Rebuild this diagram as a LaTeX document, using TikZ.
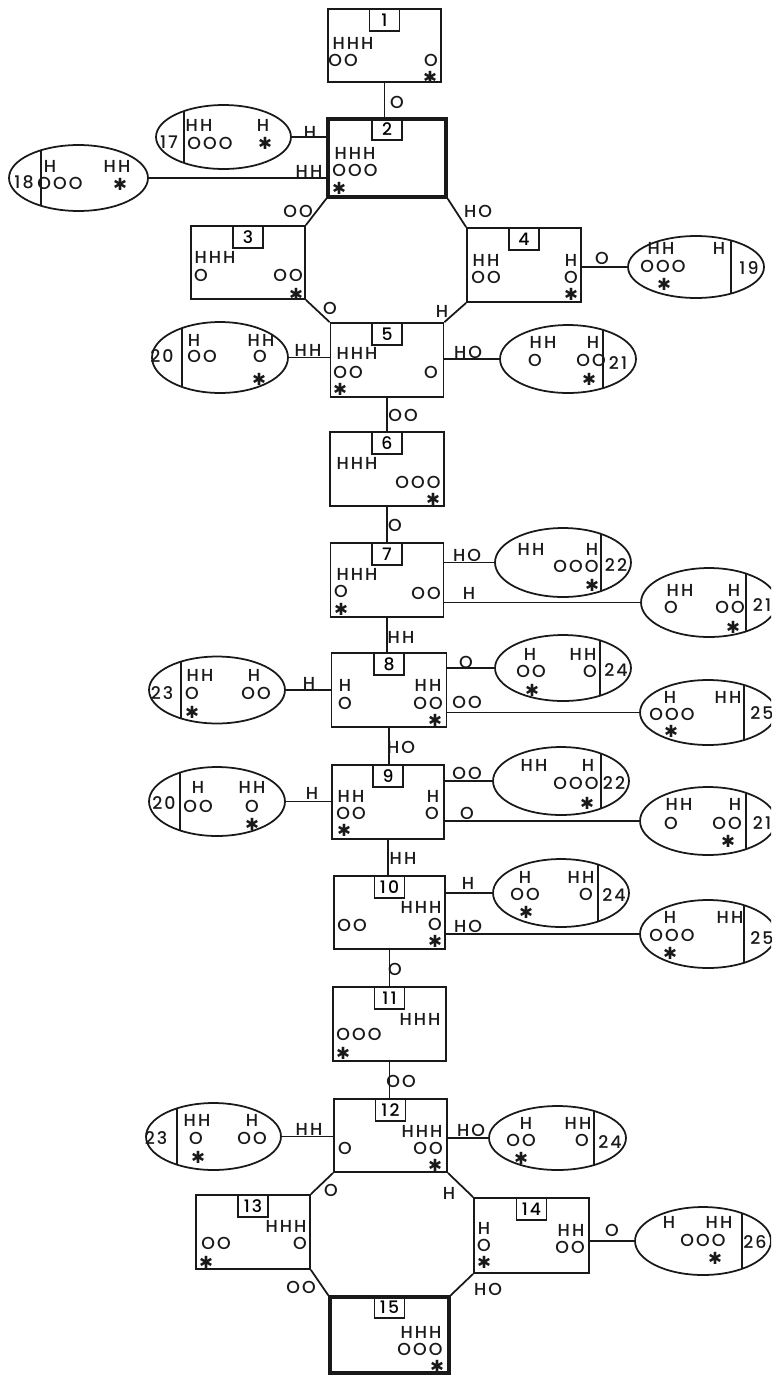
\documentclass[tikz,border=0pt]{standalone}
\usepackage{fontspec}
\usepackage{tikz}
\usetikzlibrary{shapes.geometric, calc}
\IfFontExistsTF{Poppins Medium}
  {\newfontfamily\chemfont[LetterSpace=12]{Poppins Medium}}
  {\newfontfamily\chemfont[LetterSpace=12]{Poppins}}
\newfontfamily\symfont{DejaVu Sans}
\definecolor{Ink}{RGB}{25,25,25}
\newcommand\astr{{\symfont\fontsize{9.5}{9.5}\selectfont ✱}}

\begin{document}
\begin{tikzpicture}[
  x=0.02cm, y=-0.02cm,
  box/.style={rectangle, draw=Ink, line width=1pt, inner sep=0pt},
  boxthin/.style={},
  boxthick/.style={line width=2pt},
  tab/.style={rectangle, draw=Ink, line width=0.9pt, inner sep=0pt,
              minimum width=0.6cm, minimum height=0.44cm,
              font=\chemfont\fontsize{9.8}{9.8}\selectfont},
  cell/.style={ellipse, draw=Ink, line width=1pt, inner sep=0pt},
  link/.style={draw=Ink, line width=1pt},
  chem/.style={inner sep=0pt, text=Ink, font=\chemfont\fontsize{9.9}{9.9}\selectfont}
]
\useasboundingbox (0,0) rectangle (771,1376);
\clip (0,0) rectangle (771,1376);

% boxes with their number tabs
\foreach \n/\x/\y/\w/\h/\s in {
  1/384.5/45.5/113/73/boxthin, 2/387/158/118/78/boxthick,
  3/248/262.5/114/73/boxthin, 4/524/265/114/74/boxthin,
  5/387/360/113/74/boxthin, 6/387/469/114/74/boxthin,
  7/387/580/113/74/boxthin, 8/389/690/115/74/boxthin,
  9/388/802/112/74/boxthin, 10/389.5/912.5/111/73/boxthin,
  11/389.5/1024/113/74/boxthin, 12/390.5/1135.5/113/73/boxthin,
  13/253/1232/114/74/boxthin, 14/531.5/1235.5/115/75/boxthin,
  15/389.5/1335/119/76/boxthick}
{
  \node[box, \s, minimum width=\w*0.02cm, minimum height=\h*0.02cm] (b\n) at (\x,\y) {};
  \node[tab, anchor=north] (t\n) at (b\n.north) {\n};
}

% side cells
\foreach \n/\x/\y/\rx/\ry/\d in {
  17/223.5/137/67.5/32/184, 18/78.5/178/69.5/33/41,
  19/696/267/68/31/731, 20a/220/357.5/68/35.5/182,
  21a/568/359/68/34/603, 22a/563/562.5/68/34.5/601,
  21b/709/602.5/68/34.5/746, 23a/217/690/68/33.5/181,
  24a/563/668/68/33/600, 25a/708/712.5/68/32.5/744,
  20b/217/801.5/68/34.5/180, 22b/561/781/68/34/601,
  21c/708/821/68/34/746, 24b/561/893/68/34/598,
  25b/708/934/68/34/744, 23b/213.5/1136.5/67.5/33.5/177,
  24c/557.5/1138/68.5/32/594, 26/703/1241/68/34/742}
{
  \node[cell, minimum width=\rx*0.04cm, minimum height=\ry*0.04cm] (e\n) at (\x,\y) {};
  \begin{scope}
    \clip (\x,\y) ellipse ({\rx} and {\ry});
    \draw[link] (\d,\y-\ry) -- (\d,\y+\ry);
  \end{scope}
}

% main chain
\foreach \a/\b in {1/2, 5/6, 6/7, 7/8, 8/9, 9/10, 10/11, 11/12}
  \draw[link] (b\a.south) -- (b\a.south |- b\b.north);

% rings
\foreach \a/\p/\b/\q in {2/south west/3/north east, 2/south east/4/north west,
  3/south east/5/north west, 4/south west/5/north east,
  12/south west/13/north east, 12/south east/14/north west,
  13/south east/15/north west, 14/south west/15/north east}
  \draw[link] (b\a.\p) -- (b\b.\q);

% cells to boxes
\foreach \e/\b in {17/2, 18/2, 20a/5, 23a/8, 20b/9, 23b/12}
  \draw[link] (e\e.east) -- (e\e.east -| b\b.west);
\foreach \e/\b in {19/4, 21a/5, 22a/7, 21b/7, 24a/8, 25a/8, 22b/9, 21c/9,
  24b/10, 25b/10, 24c/12, 26/14}
  \draw[link] (e\e.west -| b\b.east) -- (e\e.west);

% contents and bond labels
\foreach \x/\y/\t [count=\i] in {
  353/43/HHH, 343/60/OO, 431/60/O, 430/77/\astr, 397/102/O,
  355/153/HHH, 355/170/OOO, 339/188/\astr,
  169/142/17, 199/125/HH, 263/125/H, 210/143/OOO, 265/143/\astr, 310/132/H,
  24/182/18, 50/166/H, 117/166/HH, 60/183/OOO, 120/184/\astr, 309/171/HH,
  298/211/OO, 478/211/HO, 330/308/O, 442/311/H,
  215/257/HHH, 201/275/O, 288/275/OO, 296/294/\astr,
  486/260/HH, 486/277/OO, 571/260/H, 571/277/O, 571/294/\astr,
  749/268/19, 661/248/HH, 719/248/H, 663/266/OOO, 664/284/\astr, 602/258/O,
  357/353/HHH, 348/372/OO, 340/389/\astr, 431/372/O,
  162/356/20, 194/340/H, 261/340/HH, 202/356/OO, 260/356/O, 259/379/\astr, 308/350/HH,
  618/363/21, 543/342/HH, 593/342/H, 535/360/O, 591/360/OO, 589/379/\astr, 468/352/HO,
  403/415/OO,
  357/463/HHH, 418/482/OOO, 433/499/\astr, 395/525/O,
  357/574/HHH, 341/591/O, 426/593/OO, 341/609/\astr,
  616/565/22, 531/549/HH, 592/549/H, 576/566/OOO, 592/585/\astr, 467/555/HO,
  762/605/21, 680/590/HH, 734/590/H, 671/607/O, 730/607/OO, 733/627/\astr, 469/593/H,
  401/637/HH,
  345/685/H, 345/703/O, 428/685/HH, 428/703/OO, 435/720/\astr,
  162/693/23, 200/675/HH, 254/675/H, 192/693/O, 256/693/OO, 192/712/\astr, 309/683/H,
  616/670/24, 530/654/H, 583/654/HH, 531/671/OO, 590/671/O, 532/690/\astr, 466/662/O,
  762/713/25, 670/697/H, 728/697/HH, 672/714/OOO, 671/731/\astr, 467/702/OO,
  401/747/HO,
  351/796/HH, 351/813/OO, 344/830/\astr, 433/796/H, 432/813/O,
  164/803/20, 198/787/H, 252/787/HH, 198/806/OO, 252/806/O, 252/824/\astr, 312/793/H,
  614/783/22, 534/765/HH, 588/765/H, 576/783/OOO, 587/803/\astr, 467/773/OO,
  762/823/21, 679/804/HH, 735/804/H, 671/823/O, 727/823/OO, 728/841/\astr, 467/813/O,
  403/858/HH,
  421/907/HHH, 352/925/OO, 435/924/O, 435/941/\astr,
  614/895/24, 525/877/H, 581/877/HH, 525/894/OO, 586/894/O, 526/912/\astr, 468/883/H,
  762/938/25, 670/917/H, 730/917/HH, 672/935/OOO, 670/953/\astr, 468/926/HO,
  395/969/O,
  420/1019/HHH, 359/1034/OOO, 343/1053/\astr,
  401/1081/OO,
  345/1148/O, 422/1131/HHH, 428/1148/OO, 435/1165/\astr,
  156/1138/23, 197/1120/HH, 252/1120/H, 196/1138/O, 252/1138/OO, 198/1157/\astr, 309/1129/HH,
  610/1142/24, 526/1123/H, 578/1123/HH, 521/1140/OO, 582/1140/O, 521/1158/\astr, 471/1130/HO,
  331/1190/O, 449/1193/H, 301/1287/OO, 488/1289/HO,
  286/1226/HHH, 216/1243/OO, 300/1243/O, 206/1262/\astr,
  484/1228/H, 484/1245/O, 484/1262/\astr, 571/1230/HH, 570/1247/OO,
  755/1242/26, 669/1222/H, 719/1222/HH, 703/1240/OOO, 715/1258/\astr, 612/1230/O,
  421/1332/HHH, 420/1349/OOO, 437/1366/\astr}
  \node[chem] (w\i) at (\x,\y) {\t};
\end{tikzpicture}
\end{document}
